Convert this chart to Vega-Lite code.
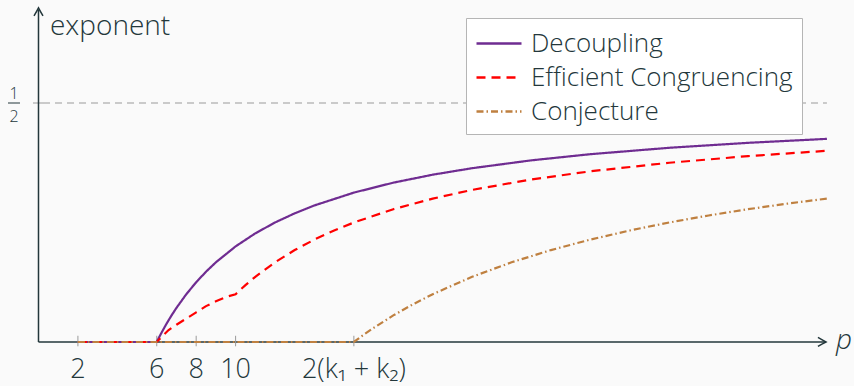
{
  "$schema": "https://vega.github.io/schema/vega-lite/v6.json",
  "width": 854,
  "height": 386,
  "autosize": {"type": "fit", "contains": "padding"},
  "padding": 0,
  "background": "#fafafa",
  "config": {"view": {"stroke": null}, "font": "Open Sans"},
  "datasets": {
    "curves": [
      {"x": 2, "y": 0, "s": "Decoupling"},
      {"x": 6, "y": 0, "s": "Decoupling"},
      {"x": 6.1, "y": 0.0082, "s": "Decoupling"},
      {"x": 6.25, "y": 0.02, "s": "Decoupling"},
      {"x": 6.5, "y": 0.0385, "s": "Decoupling"},
      {"x": 6.75, "y": 0.0556, "s": "Decoupling"},
      {"x": 7, "y": 0.0714, "s": "Decoupling"},
      {"x": 7.5, "y": 0.1, "s": "Decoupling"},
      {"x": 8, "y": 0.125, "s": "Decoupling"},
      {"x": 8.5, "y": 0.1471, "s": "Decoupling"},
      {"x": 9, "y": 0.1667, "s": "Decoupling"},
      {"x": 10, "y": 0.2, "s": "Decoupling"},
      {"x": 11, "y": 0.2273, "s": "Decoupling"},
      {"x": 12, "y": 0.25, "s": "Decoupling"},
      {"x": 13, "y": 0.2692, "s": "Decoupling"},
      {"x": 14, "y": 0.2857, "s": "Decoupling"},
      {"x": 16, "y": 0.3125, "s": "Decoupling"},
      {"x": 18, "y": 0.3333, "s": "Decoupling"},
      {"x": 20, "y": 0.35, "s": "Decoupling"},
      {"x": 22, "y": 0.3636, "s": "Decoupling"},
      {"x": 25, "y": 0.38, "s": "Decoupling"},
      {"x": 28, "y": 0.3929, "s": "Decoupling"},
      {"x": 32, "y": 0.4063, "s": "Decoupling"},
      {"x": 36, "y": 0.4167, "s": "Decoupling"},
      {"x": 40, "y": 0.425, "s": "Decoupling"},
      {"x": 2, "y": 0, "s": "Efficient Congruencing"},
      {"x": 6, "y": 0, "s": "Efficient Congruencing"},
      {"x": 6.3, "y": 0.013, "s": "Efficient Congruencing"},
      {"x": 6.6, "y": 0.025, "s": "Efficient Congruencing"},
      {"x": 7, "y": 0.036, "s": "Efficient Congruencing"},
      {"x": 7.5, "y": 0.049, "s": "Efficient Congruencing"},
      {"x": 8, "y": 0.062, "s": "Efficient Congruencing"},
      {"x": 8.5, "y": 0.075, "s": "Efficient Congruencing"},
      {"x": 9, "y": 0.085, "s": "Efficient Congruencing"},
      {"x": 9.5, "y": 0.094, "s": "Efficient Congruencing"},
      {"x": 10, "y": 0.1, "s": "Efficient Congruencing"},
      {"x": 10.5, "y": 0.119, "s": "Efficient Congruencing"},
      {"x": 11, "y": 0.1364, "s": "Efficient Congruencing"},
      {"x": 12, "y": 0.1667, "s": "Efficient Congruencing"},
      {"x": 13, "y": 0.1923, "s": "Efficient Congruencing"},
      {"x": 14, "y": 0.2143, "s": "Efficient Congruencing"},
      {"x": 15, "y": 0.2333, "s": "Efficient Congruencing"},
      {"x": 16, "y": 0.25, "s": "Efficient Congruencing"},
      {"x": 18, "y": 0.2778, "s": "Efficient Congruencing"},
      {"x": 20, "y": 0.3, "s": "Efficient Congruencing"},
      {"x": 22, "y": 0.3182, "s": "Efficient Congruencing"},
      {"x": 25, "y": 0.34, "s": "Efficient Congruencing"},
      {"x": 28, "y": 0.3571, "s": "Efficient Congruencing"},
      {"x": 32, "y": 0.375, "s": "Efficient Congruencing"},
      {"x": 36, "y": 0.3889, "s": "Efficient Congruencing"},
      {"x": 40, "y": 0.4, "s": "Efficient Congruencing"},
      {"x": 2, "y": 0, "s": "Conjecture"},
      {"x": 16, "y": 0, "s": "Conjecture"},
      {"x": 16.5, "y": 0.0152, "s": "Conjecture"},
      {"x": 17, "y": 0.0294, "s": "Conjecture"},
      {"x": 18, "y": 0.0556, "s": "Conjecture"},
      {"x": 19, "y": 0.0789, "s": "Conjecture"},
      {"x": 20, "y": 0.1, "s": "Conjecture"},
      {"x": 22, "y": 0.1364, "s": "Conjecture"},
      {"x": 24, "y": 0.1667, "s": "Conjecture"},
      {"x": 26, "y": 0.1923, "s": "Conjecture"},
      {"x": 28, "y": 0.2143, "s": "Conjecture"},
      {"x": 30, "y": 0.2333, "s": "Conjecture"},
      {"x": 32, "y": 0.25, "s": "Conjecture"},
      {"x": 34, "y": 0.2647, "s": "Conjecture"},
      {"x": 36, "y": 0.2778, "s": "Conjecture"},
      {"x": 38, "y": 0.2895, "s": "Conjecture"},
      {"x": 40, "y": 0.3, "s": "Conjecture"}
    ],
    "ticks": [
      {"x": 2, "label": "2"},
      {"x": 6, "label": "6"},
      {"x": 8, "label": "8"},
      {"x": 10, "label": "10"},
      {"x": 16, "label": "2(k₁ + k₂)"}
    ]
  },
  "encoding": {
    "x": {"field": "x", "type": "quantitative", "axis": null, "scale": {"domain": [-1.953, 41.374], "nice": false, "zero": false}},
    "y": {"field": "y", "type": "quantitative", "axis": null, "scale": {"domain": [-0.0921, 0.7155], "nice": false, "zero": false}}
  },
  "layer": [
    {
      "data": {"values": [{"x": 0.23, "x2": 40, "y": 0.5}]},
      "mark": {"type": "rule", "color": "#9a9a9a", "strokeWidth": 1, "strokeDash": [7, 5]},
      "encoding": {"x2": {"field": "x2"}}
    },
    {
      "data": {"values": [{"x": -0.28, "x2": 0.23, "y": 0.5}]},
      "mark": {"type": "rule", "color": "#9a9a9a", "strokeWidth": 1},
      "encoding": {"x2": {"field": "x2"}}
    },
    {
      "data": {"values": [{"x": 0, "x2": 39.9, "y": 0}]},
      "mark": {"type": "rule", "color": "#23373b", "strokeWidth": 1.5},
      "encoding": {"x2": {"field": "x2"}}
    },
    {
      "data": {"values": [{"x": 0, "y": 0, "y2": 0.695}]},
      "mark": {"type": "rule", "color": "#23373b", "strokeWidth": 1.5},
      "encoding": {"y2": {"field": "y2"}}
    },
    {
      "data": {"name": "ticks"},
      "transform": [{"calculate": "-0.009", "as": "y"}, {"calculate": "0.013", "as": "y2"}],
      "mark": {"type": "rule", "color": "#9a9a9a", "strokeWidth": 1},
      "encoding": {"y2": {"field": "y2"}}
    },
    {
      "data": {"name": "curves"},
      "mark": {"type": "line", "strokeWidth": 2.2, "interpolate": "linear"},
      "encoding": {
        "color": {
          "field": "s", "type": "nominal",
          "scale": {"domain": ["Decoupling", "Efficient Congruencing", "Conjecture"], "range": ["#6f2c91", "#ff0000", "#bf8040"]},
          "legend": {"orient": "none", "legendX": 466, "legendY": 18, "title": null, "symbolType": "M-1,0H2", "symbolSize": 900, "symbolStrokeWidth": 2.5, "labelFontSize": 26, "labelFont": "Open Sans", "labelFontWeight": 300, "labelColor": "#23373b", "labelLimit": 500, "fillColor": "white", "strokeColor": "#b5b5b5", "padding": 9, "rowPadding": 4, "labelOffset": 23}
        },
        "strokeDash": {
          "field": "s", "type": "nominal",
          "scale": {"domain": ["Decoupling", "Efficient Congruencing", "Conjecture"], "range": [[1, 0], [9, 6], [7, 3, 1.5, 3]]},
          "legend": {"orient": "none", "legendX": 466, "legendY": 18, "title": null, "symbolType": "M-1,0H2", "symbolSize": 900, "symbolStrokeWidth": 2.5, "labelFontSize": 26, "labelFont": "Open Sans", "labelFontWeight": 300, "labelColor": "#23373b", "labelLimit": 500, "fillColor": "white", "strokeColor": "#b5b5b5", "padding": 9, "rowPadding": 4, "labelOffset": 23}
        },
        "order": {"field": "x", "type": "quantitative"}
      }
    },
    {
      "data": {"values": [{"x": 39.95, "y": 0, "a": 0}, {"x": 0, "y": 0.699, "a": -90}]},
      "mark": {"type": "point", "shape": "M-1.6,-0.9Q-0.6,-0.3,0,0Q-0.6,0.3,-1.6,0.9", "size": 100, "filled": false, "stroke": "#23373b", "strokeWidth": 1.5, "opacity": 1},
      "encoding": {"angle": {"field": "a", "type": "quantitative", "scale": null}}
    },
    {
      "data": {"name": "ticks"},
      "transform": [{"calculate": "-0.0754", "as": "y"}],
      "mark": {"type": "text", "fontSize": 27, "fontWeight": 300, "color": "#23373b", "align": "center", "baseline": "alphabetic"},
      "encoding": {"text": {"field": "label"}}
    },
    {
      "data": {"values": [{"x": 0.583, "y": 0.642, "t": "exponent"}]},
      "mark": {"type": "text", "fontSize": 28, "fontWeight": 300, "color": "#23373b", "align": "left", "baseline": "alphabetic"},
      "encoding": {"text": {"field": "t"}}
    },
    {
      "data": {"values": [{"x": 40.46, "y": -0.0147, "t": "p"}]},
      "mark": {"type": "text", "fontSize": 28, "fontWeight": 300, "fontStyle": "italic", "color": "#23373b", "align": "left", "baseline": "alphabetic"},
      "encoding": {"text": {"field": "t"}}
    },
    {
      "data": {"values": [{"x": -1.243, "y": 0.5087, "t": "1"}, {"x": -1.243, "y": 0.4612, "t": "2"}]},
      "mark": {"type": "text", "fontSize": 16, "fontWeight": 300, "color": "#23373b", "align": "center", "baseline": "alphabetic"},
      "encoding": {"text": {"field": "t"}}
    },
    {
      "data": {"values": [{"x": -1.547, "x2": -0.939, "y": 0.5}]},
      "mark": {"type": "rule", "color": "#23373b", "strokeWidth": 1},
      "encoding": {"x2": {"field": "x2"}}
    }
  ]
}
